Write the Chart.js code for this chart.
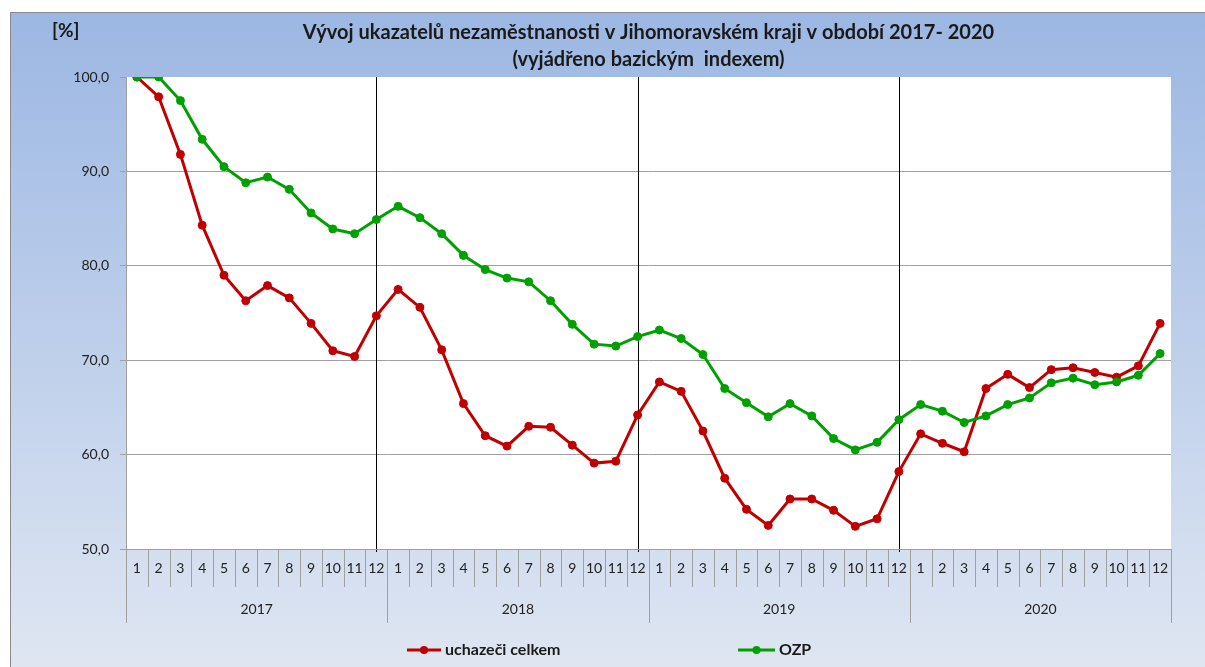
<!DOCTYPE html>
<html><head><meta charset="utf-8">
<script src="https://cdn.jsdelivr.net/npm/chart.js@4.4.1/dist/chart.umd.min.js"></script>
<style>html,body{margin:0;padding:0;background:#fff;overflow:hidden}#wrap{position:relative;width:1205px;height:667px}</style>
</head><body><div id="wrap"><canvas id="c" width="1205" height="667"></canvas></div>
<script>
const titleLines = ['Vývoj ukazatelů nezaměstnanosti v Jihomoravském kraji v období 2017- 2020', '(vyjádřeno bazickým  indexem)'];
const unitLabel = '[%]';
const years = ['2017', '2018', '2019', '2020'];
const monthLabels = ['1','2','3','4','5','6','7','8','9','10','11','12'];
const seriesNames = ['uchazeči celkem', 'OZP'];
const uchazeci = [
  100.0, 97.9, 91.8, 84.3, 79.0, 76.3, 77.9, 76.6, 73.9, 71.0, 70.4, 74.7,
  77.5, 75.6, 71.1, 65.4, 62.0, 60.9, 63.0, 62.9, 61.0, 59.1, 59.3, 64.2,
  67.7, 66.7, 62.5, 57.5, 54.2, 52.5, 55.3, 55.3, 54.1, 52.4, 53.2, 58.2,
  62.2, 61.2, 60.3, 67.0, 68.5, 67.1, 69.0, 69.2, 68.7, 68.2, 69.4, 73.9
];
const ozp = [
  100.0, 100.0, 97.5, 93.4, 90.5, 88.8, 89.4, 88.1, 85.6, 83.9, 83.4, 84.9,
  86.3, 85.1, 83.4, 81.1, 79.6, 78.7, 78.3, 76.3, 73.8, 71.7, 71.5, 72.5,
  73.2, 72.3, 70.6, 67.0, 65.5, 64.0, 65.4, 64.1, 61.7, 60.5, 61.3, 63.7,
  65.3, 64.6, 63.4, 64.1, 65.3, 66.0, 67.6, 68.1, 67.4, 67.7, 68.4, 70.7
];
const yMin = 50, yMax = 100, yStep = 10;

const categories = years.flatMap(() => monthLabels);
const seriesColors = ['#c00000', '#00a000'];
const gridGray = '#a0a0a0';
const FONT = 'Lato, "Open Sans", sans-serif';

const framePlugin = {
  id: 'frame',
  beforeDraw(chart) {
    const { ctx, chartArea: a, width, height } = chart;
    ctx.save();
    ctx.fillStyle = '#ffffff';
    ctx.fillRect(0, 0, width, height);
    const g = ctx.createLinearGradient(0, 12, 0, height);
    g.addColorStop(0, '#9cb7e3');
    g.addColorStop(1, '#dfe6f2');
    ctx.fillStyle = g;
    ctx.fillRect(10, 12, width, height);
    ctx.strokeStyle = '#8a8a8a';
    ctx.lineWidth = 1;
    ctx.beginPath();
    ctx.moveTo(10.5, height); ctx.lineTo(10.5, 12.5); ctx.lineTo(width, 12.5);
    ctx.stroke();
    ctx.fillStyle = '#ffffff';
    ctx.fillRect(a.left, a.top, a.right - a.left, a.bottom - a.top);
    ctx.restore();
  },
  beforeDatasetsDraw(chart) {
    const { ctx, chartArea: a } = chart;
    const xs = chart.scales.x;
    ctx.save();
    ctx.strokeStyle = '#000000';
    ctx.lineWidth = 1;
    for (let i = monthLabels.length - 1; i < categories.length - 1; i += monthLabels.length) {
      const px = Math.round(xs.getPixelForValue(i)) + 0.5;
      ctx.beginPath();
      ctx.moveTo(px, a.top);
      ctx.lineTo(px, a.bottom + 3);
      ctx.stroke();
    }
    ctx.restore();
  },
  afterDraw(chart) {
    const { ctx, chartArea: a } = chart;
    const xs = chart.scales.x, x2 = chart.scales.x2;
    const step = xs.getPixelForValue(1) - xs.getPixelForValue(0);
    const start = xs.getPixelForValue(0) - step / 2;
    ctx.save();
    ctx.strokeStyle = gridGray;
    ctx.lineWidth = 1;
    for (let i = 0; i <= categories.length; i++) {
      const bx = Math.round(start + i * step) + 0.5;
      const bottom = (i % monthLabels.length === 0) ? x2.bottom : xs.bottom;
      ctx.beginPath();
      ctx.moveTo(bx, a.bottom);
      ctx.lineTo(bx, bottom);
      ctx.stroke();
    }
    ctx.beginPath();
    ctx.moveTo(a.left - 6, Math.round(a.bottom) + 0.5);
    ctx.lineTo(a.right, Math.round(a.bottom) + 0.5);
    ctx.moveTo(Math.round(a.left) + 0.5, a.top);
    ctx.lineTo(Math.round(a.left) + 0.5, a.bottom);
    ctx.stroke();

    // title
    ctx.fillStyle = '#1a1a1a';
    ctx.font = 'bold 20px ' + FONT;
    ctx.textAlign = 'center';
    ctx.textBaseline = 'middle';
    const cx = (a.left + a.right) / 2;
    ctx.fillText(titleLines[0], cx, 33);
    ctx.fillText(titleLines[1], cx, 60);
    ctx.textAlign = 'left';
    ctx.font = 'bold 19px ' + FONT;
    ctx.fillText(unitLabel, 52, 31);

    // legend
    const legendY = 650;
    const items = [{ x: 407, w: 34 }, { x: 738, w: 37 }];
    ctx.font = 'bold 16px ' + FONT;
    items.forEach((it, i) => {
      ctx.strokeStyle = seriesColors[i];
      ctx.lineWidth = 3;
      ctx.beginPath();
      ctx.moveTo(it.x, legendY); ctx.lineTo(it.x + it.w, legendY);
      ctx.stroke();
      ctx.fillStyle = seriesColors[i];
      ctx.beginPath();
      ctx.arc(it.x + it.w / 2, legendY, 4, 0, Math.PI * 2);
      ctx.fill();
      ctx.fillStyle = '#1a1a1a';
      ctx.textAlign = 'left';
      ctx.fillText(seriesNames[i], it.x + it.w + 4, legendY);
    });
    ctx.restore();
  }
};

const mkDataset = (label, data, color, order) => ({
  label, data, order,
  borderColor: color, backgroundColor: color,
  borderWidth: 3, pointRadius: 4, pointHoverRadius: 4,
  pointBorderWidth: 1, pointBackgroundColor: color, pointBorderColor: color,
  tension: 0, fill: false
});

new Chart(document.getElementById('c'), {
  type: 'line',
  data: {
    labels: categories,
    datasets: [
      mkDataset(seriesNames[0], uchazeci, seriesColors[0], 1),
      mkDataset(seriesNames[1], ozp, seriesColors[1], 0)
    ]
  },
  options: {
    responsive: false,
    animation: false,
    devicePixelRatio: 1,
    layout: { padding: { left: 0, right: 34, top: 77, bottom: 44 } },
    plugins: { legend: { display: false }, title: { display: false }, tooltip: { enabled: false } },
    scales: {
      y: {
        min: yMin, max: yMax,
        ticks: {
          stepSize: yStep, padding: 11, color: '#222',
          font: { family: FONT, size: 14 },
          callback: v => v.toFixed(1).replace('.', ',')
        },
        grid: {
          color: c => (c.tick && c.tick.value === yMax) ? 'rgba(0,0,0,0)' : gridGray,
          tickColor: gridGray, tickLength: 6, drawTicks: true, lineWidth: 1
        },
        border: { display: false },
        afterFit: s => { s.width = 126; }
      },
      x: {
        type: 'category', position: 'bottom', offset: true,
        ticks: { autoSkip: false, maxRotation: 0, minRotation: 0, padding: 11, color: '#222', font: { family: FONT, size: 14 } },
        grid: { display: false, drawTicks: false },
        border: { display: false },
        afterFit: s => { s.height = 38; }
      },
      x2: {
        type: 'category', position: 'bottom', offset: true, labels: years,
        ticks: { autoSkip: false, maxRotation: 0, minRotation: 0, padding: 14, color: '#222', font: { family: FONT, size: 14 } },
        grid: { display: false, drawTicks: false },
        border: { display: false },
        afterFit: s => { s.height = 36; }
      }
    }
  },
  plugins: [framePlugin]
});
</script>
</body></html>
